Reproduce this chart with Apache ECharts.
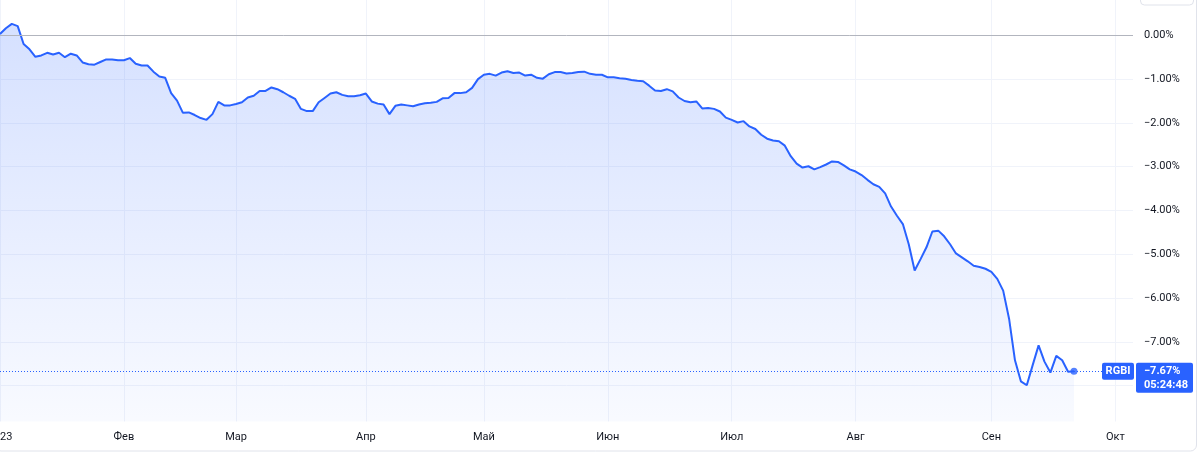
<!DOCTYPE html>
<html>
<head>
<meta charset="utf-8">
<title>RGBI</title>
<script src="https://cdn.jsdelivr.net/npm/echarts@6/dist/echarts.min.js"></script>
<style>
  html, body { margin: 0; padding: 0; background: #fff; }
  #chart_main { width: 1200px; height: 457px; }
</style>
</head>
<body>
<div id="chart_main"></div>
<script>
// подписи месяцев и индексы торговых дней, на которые они приходятся
const monthLabels = ['2023', 'Фев', 'Мар', 'Апр', 'Май', 'Июн', 'Июл', 'Авг', 'Сен', 'Окт']
const monthIdx = [0, 21, 40, 62, 82, 103, 124, 145, 168, 189]
const dayCount = 193 // ось с запасом справа

// подписи шкалы справа, %
const yTicks = [0, -1, -2, -3, -4, -5, -6, -7]

// изменение индекса RGBI, % (по торговым дням)
const rgbiValues = [
  0.03, 0.16, 0.26, 0.21, -0.20, -0.32, -0.49, -0.46, -0.40, -0.44,
  -0.40, -0.50, -0.42, -0.46, -0.62, -0.66, -0.67, -0.61, -0.55, -0.55,
  -0.57, -0.57, -0.52, -0.65, -0.69, -0.69, -0.83, -0.94, -0.97, -1.32,
  -1.49, -1.77, -1.76, -1.82, -1.89, -1.93, -1.80, -1.52, -1.60, -1.60,
  -1.57, -1.53, -1.42, -1.38, -1.27, -1.27, -1.19, -1.23, -1.30, -1.38,
  -1.45, -1.68, -1.73, -1.73, -1.53, -1.43, -1.33, -1.30, -1.36, -1.39,
  -1.39, -1.37, -1.33, -1.51, -1.56, -1.58, -1.80, -1.61, -1.58, -1.60,
  -1.62, -1.58, -1.55, -1.54, -1.52, -1.44, -1.43, -1.32, -1.32, -1.30,
  -1.20, -1.00, -0.90, -0.88, -0.92, -0.85, -0.82, -0.86, -0.85, -0.92,
  -0.90, -0.97, -0.99, -0.89, -0.84, -0.84, -0.87, -0.86, -0.84, -0.83,
  -0.88, -0.90, -0.90, -0.96, -0.96, -0.98, -0.99, -1.02, -1.04, -1.05,
  -1.15, -1.26, -1.27, -1.23, -1.28, -1.42, -1.50, -1.53, -1.51, -1.67,
  -1.66, -1.68, -1.74, -1.88, -1.93, -1.99, -1.96, -2.08, -2.14, -2.27,
  -2.36, -2.40, -2.42, -2.52, -2.76, -2.93, -3.02, -2.99, -3.06, -3.01,
  -2.95, -2.88, -2.89, -2.97, -3.06, -3.11, -3.19, -3.30, -3.40, -3.46,
  -3.61, -3.91, -4.12, -4.31, -4.77, -5.37, -5.11, -4.84, -4.48, -4.46,
  -4.59, -4.77, -4.98, -5.07, -5.16, -5.26, -5.29, -5.33, -5.40, -5.56,
  -5.83, -6.47, -7.42, -7.90, -7.99, -7.53, -7.08, -7.45, -7.70, -7.32,
  -7.42, -7.68, -7.67
]
const lastTime = '05:24:48'
const tickerName = 'RGBI'

// категории оси X: подписи только на начало месяца
const categories = []
for (let i = 0; i < dayCount; i++) {
  const k = monthIdx.indexOf(i)
  categories.push(k >= 0 ? monthLabels[k] : '')
}
const isMonth = (i) => monthIdx.indexOf(i) >= 0
const lastIdx = rgbiValues.length - 1
const lastValue = rgbiValues[lastIdx]

function fmtPct (v) {
  const s = Math.abs(v).toFixed(2) + '%'
  return v < 0 ? '\u2212' + s : s
}

const blue = '#2962ff'
const gridColor = '#f0f3fa'
const textColor = '#131722'
const font = 'Roboto, "Noto Sans", sans-serif'
const labelX = 1144 // левый край подписей шкалы

const myChart = echarts.init(document.getElementById('chart_main'), null, { renderer: 'canvas' })
const option = {
  backgroundColor: '#fff',
  animation: false,
  grid: {
    left: 0,
    right: 67,
    top: -8.5,
    bottom: 27.5,
    containLabel: false,
    // границы с запасом, чтобы сетка не сжималась под подписи
    outerBounds: { left: -200, right: -200, top: -200, bottom: -200 }
  },
  xAxis: {
    type: 'category',
    data: categories,
    boundaryGap: false,
    axisLine: { show: false },
    axisTick: { show: false },
    axisLabel: {
      interval: (i) => isMonth(i),
      color: textColor,
      fontFamily: font,
      fontSize: 11,
      margin: 2
    },
    splitLine: {
      show: true,
      interval: (i) => isMonth(i),
      lineStyle: { color: gridColor, width: 1 }
    }
  },
  yAxis: {
    type: 'value',
    position: 'right',
    min: -9,
    max: 1,
    interval: 1,
    axisLine: { show: false },
    axisTick: { show: false },
    // подписи рисуются ниже отдельно, по координатам шкалы
    axisLabel: { show: false },
    splitLine: {
      show: true,
      showMinLine: false,
      showMaxLine: false,
      lineStyle: { color: gridColor, width: 1 }
    }
  },
  series: [
    {
      name: tickerName,
      type: 'line',
      data: rgbiValues,
      showSymbol: false,
      smooth: false,
      lineStyle: { color: blue, width: 2 },
      areaStyle: {
        origin: 'start',
        color: new echarts.graphic.LinearGradient(0, 0, 0, 1, [
          { offset: 0, color: 'rgba(41,98,255,0.28)' },
          { offset: 1, color: 'rgba(41,98,255,0.04)' }
        ])
      },
      markLine: {
        silent: true,
        symbol: ['none', 'none'],
        label: { show: false },
        data: [
          { yAxis: 0, lineStyle: { color: '#b2b5be', width: 1, type: 'solid' } },
          { yAxis: lastValue, lineStyle: { color: blue, width: 1, type: [1, 2] } }
        ]
      },
      z: 3
    },
    {
      // точка последнего значения
      type: 'scatter',
      data: [[lastIdx, lastValue]],
      symbol: 'circle',
      symbolSize: 7,
      itemStyle: { color: blue },
      silent: true,
      z: 4
    }
  ]
}
myChart.setOption(option)

// плашки с тикером и последним значением, по координатам из шкалы
const yLast = myChart.convertToPixel({ yAxisIndex: 0 }, lastValue)
const yBottom = myChart.convertToPixel({ yAxisIndex: 0 }, -8.82)
const yMin = myChart.convertToPixel({ yAxisIndex: 0 }, -9)

const tickTexts = yTicks.map((v) => ({
  type: 'text',
  z: 90,
  x: labelX,
  y: myChart.convertToPixel({ yAxisIndex: 0 }, v),
  style: {
    text: fmtPct(v),
    fill: textColor,
    font: '11px ' + font,
    align: 'left',
    verticalAlign: 'middle'
  }
}))

myChart.setOption({
  graphic: tickTexts.concat([
    {
      // нижняя часть области под графиком
      type: 'rect',
      z: 100,
      shape: { x: 0, y: yBottom, width: 1133, height: yMin - yBottom + 1 },
      style: { fill: '#fff' }
    },
    {
      type: 'rect',
      z: 100,
      shape: { x: -5, y: -10, width: 1201.5, height: 461, r: 6 },
      style: { fill: 'none', stroke: '#e0e3eb', lineWidth: 1 }
    },
    {
      type: 'rect',
      z: 100,
      shape: { x: 1140.5, y: -10, width: 53, height: 15, r: 4 },
      style: { fill: '#fff', stroke: '#e0e3eb', lineWidth: 1 }
    },
    {
      type: 'rect',
      z: 101,
      shape: { x: 1102, y: yLast - 8.5, width: 32, height: 17, r: 2 },
      style: { fill: blue }
    },
    {
      type: 'text',
      z: 102,
      x: 1118,
      y: yLast,
      style: {
        text: tickerName,
        fill: '#fff',
        font: 'bold 11px ' + font,
        align: 'center',
        verticalAlign: 'middle'
      }
    },
    {
      type: 'rect',
      z: 101,
      shape: { x: 1136, y: yLast - 8.5, width: 57, height: 30, r: 2 },
      style: { fill: blue }
    },
    {
      type: 'text',
      z: 102,
      x: labelX,
      y: yLast,
      style: {
        text: fmtPct(lastValue),
        fill: '#fff',
        font: 'bold 11px ' + font,
        align: 'left',
        verticalAlign: 'middle'
      }
    },
    {
      type: 'text',
      z: 102,
      x: labelX,
      y: yLast + 14,
      style: {
        text: lastTime,
        fill: '#fff',
        font: 'bold 11px ' + font,
        align: 'left',
        verticalAlign: 'middle'
      }
    }
  ])
})
</script>
</body>
</html>
